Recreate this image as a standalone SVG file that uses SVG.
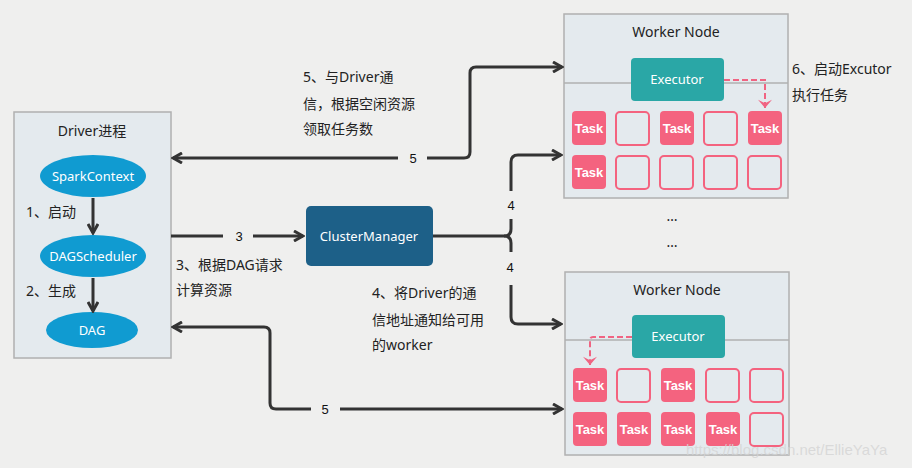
<svg xmlns="http://www.w3.org/2000/svg" width="912" height="468" viewBox="0 0 912 468">
<defs>
<marker id="ah" viewBox="0 0 12 12" refX="10" refY="6" markerWidth="12" markerHeight="12" markerUnits="userSpaceOnUse" orient="auto">
<path d="M1,1 L10,6 L1,11" fill="none" stroke="#333" stroke-width="3" stroke-linejoin="miter"/>
</marker>
<marker id="ahp" viewBox="0 0 12 12" refX="6" refY="10" markerWidth="14" markerHeight="14" markerUnits="userSpaceOnUse" orient="0">
<path d="M0,3 L6,10 L12,3 L6,6 Z" fill="#f06482"/>
</marker>
</defs>
<style>
.t{font-family:"Comic Sans MS","Noto Sans","Noto Sans CJK SC",sans-serif;font-size:14px;fill:#222}
.w{font-family:"Comic Sans MS","Noto Sans","Noto Sans CJK SC",sans-serif;font-size:13px;fill:#fff;text-anchor:middle}
.box{fill:#e4eaee;stroke:#b0b0b0;stroke-width:1.5}
.ell{fill:#109bd1}
.ln{fill:none;stroke:#333;stroke-width:3}
.task{fill:#f4637f;rx:4}
.empty{fill:none;stroke:#f4637f;stroke-width:2;rx:4}
.tt{font-family:"Liberation Sans",Arial,sans-serif;font-weight:bold;font-size:13px;fill:#fff;text-anchor:middle}
.exe{fill:#2aa7a6}
.dash{fill:none;stroke:#f06482;stroke-width:2;stroke-dasharray:6,3}
.n{font-family:"Liberation Sans",Arial,sans-serif;font-size:13px;fill:#111;text-anchor:middle}
.wm{font-family:"Liberation Sans",Arial,sans-serif;font-size:15px;fill:#d4d4d4;fill-opacity:0.8}
</style>
<rect width="912" height="468" fill="#efefee"/>

<g id="driver">
<rect class="box" x="14" y="112" width="157" height="246"/>
<text class="t" x="92" y="136" text-anchor="middle">Driver进程</text>
</g>
<g id="sparkcontext">
<ellipse class="ell" cx="93" cy="176" rx="53" ry="21"/>
<text class="w" x="93" y="181">SparkContext</text>
</g>
<g id="dagscheduler">
<ellipse class="ell" cx="93" cy="256" rx="53" ry="21"/>
<text class="w" x="93" y="261">DAGScheduler</text>
</g>
<g id="dag">
<ellipse class="ell" cx="92" cy="330" rx="46" ry="18"/>
<text class="w" x="92" y="335">DAG</text>
</g>
<g id="clustermanager">
<rect x="306" y="206" width="127" height="60" rx="5" fill="#1d6088"/>
<text class="w" x="369" y="241">ClusterManager</text>
</g>

<g id="worker1">
<rect class="box" x="564" y="14" width="224" height="184"/>
<line x1="564" y1="83" x2="788" y2="83" stroke="#b0b0b0" stroke-width="1.5"/>
<text class="t" x="676" y="37" text-anchor="middle">Worker Node</text>
<rect class="exe" x="631" y="58" width="93" height="43" rx="4"/>
<text class="w" x="677" y="84">Executor</text>
<rect class="task" x="572" y="111" width="34" height="34"/><text class="tt" x="589" y="133">Task</text>
<rect class="empty" x="616" y="112" width="33" height="33"/>
<rect class="task" x="660" y="111" width="34" height="34"/><text class="tt" x="677" y="133">Task</text>
<rect class="empty" x="704" y="112" width="33" height="33"/>
<rect class="task" x="748" y="111" width="34" height="34"/><text class="tt" x="765" y="133">Task</text>
<rect class="task" x="572" y="155" width="34" height="34"/><text class="tt" x="589" y="177">Task</text>
<rect class="empty" x="616" y="156" width="33" height="33"/>
<rect class="empty" x="660" y="156" width="33" height="33"/>
<rect class="empty" x="704" y="156" width="33" height="33"/>
<rect class="empty" x="748" y="156" width="33" height="33"/>
</g>

<g id="worker2">
<rect class="box" x="565" y="272" width="224" height="183"/>
<line x1="565" y1="340" x2="789" y2="340" stroke="#b0b0b0" stroke-width="1.5"/>
<text class="t" x="677" y="295" text-anchor="middle">Worker Node</text>
<rect class="exe" x="632" y="315" width="93" height="43" rx="4"/>
<text class="w" x="678" y="341">Executor</text>
<rect class="task" x="573" y="368" width="34" height="34"/><text class="tt" x="590" y="390">Task</text>
<rect class="empty" x="617" y="369" width="33" height="33"/>
<rect class="task" x="661" y="368" width="34" height="34"/><text class="tt" x="678" y="390">Task</text>
<rect class="empty" x="706" y="369" width="33" height="33"/>
<rect class="empty" x="750" y="369" width="33" height="33"/>
<rect class="task" x="573" y="412" width="34" height="34"/><text class="tt" x="590" y="434">Task</text>
<rect class="task" x="617" y="412" width="34" height="34"/><text class="tt" x="634" y="434">Task</text>
<rect class="task" x="661" y="412" width="34" height="34"/><text class="tt" x="678" y="434">Task</text>
<rect class="task" x="706" y="412" width="34" height="34"/><text class="tt" x="723" y="434">Task</text>
<rect class="empty" x="750" y="413" width="33" height="33"/>
</g>

<g id="connectors">
<path class="ln" d="M93,198 V233" marker-end="url(#ah)"/>
<path class="ln" d="M93,278 V311" marker-end="url(#ah)"/>
<path class="ln" d="M171,236 H223 M253,236 H303" marker-end="url(#ah)"/>
<path class="ln" d="M398,158 H173" marker-end="url(#ah)"/>
<path class="ln" d="M427,158 H464 Q470,158 470,152 V73 Q470,67 476,67 H562" marker-end="url(#ah)"/>
<path class="ln" d="M433,236 H504 Q511,236 511,229 V219 M511,191 V162 Q511,155 518,155 H561" marker-end="url(#ah)"/>
<path class="ln" d="M504,236 Q511,236 511,243 V252 M511,285 V317 Q511,324 518,324 H561" marker-end="url(#ah)"/>
<path class="ln" d="M311,409 H276 Q270,409 270,403 V333 Q270,327 264,327 H173" marker-end="url(#ah)"/>
<path class="ln" d="M340,409 H562" marker-end="url(#ah)"/>
<path class="dash" d="M724,80 H765 V108" marker-end="url(#ahp)"/>
<path class="dash" d="M632,337 H593 Q590,337 590,340 V365" marker-end="url(#ahp)"/>
<text class="n" x="239" y="241">3</text>
<text class="n" x="413" y="163">5</text>
<text class="n" x="511" y="210">4</text>
<text class="n" x="510" y="272">4</text>
<text class="n" x="325" y="414">5</text>
</g>

<g id="labels">
<text class="t" x="26" y="217">1、启动</text>
<text class="t" x="26" y="296">2、生成</text>
<text class="t" x="176" y="270">3、根据DAG请求</text>
<text class="t" x="176" y="295">计算资源</text>
<text class="t" x="303" y="82">5、与Driver通</text>
<text class="t" x="303" y="109">信，根据空闲资源</text>
<text class="t" x="303" y="134">领取任务数</text>
<text class="t" x="372" y="298">4、将Driver的通</text>
<text class="t" x="372" y="325">信地址通知给可用</text>
<text class="t" x="372" y="350">的worker</text>
<text class="t" x="792" y="74">6、启动Excutor</text>
<text class="t" x="792" y="100">执行任务</text>
<text class="t" x="672" y="221" text-anchor="middle">…</text>
<text class="t" x="672" y="247" text-anchor="middle">…</text>
<text class="wm" x="686" y="455">https://blog.csdn.net/EllieYaYa</text>
</g>
</svg>
